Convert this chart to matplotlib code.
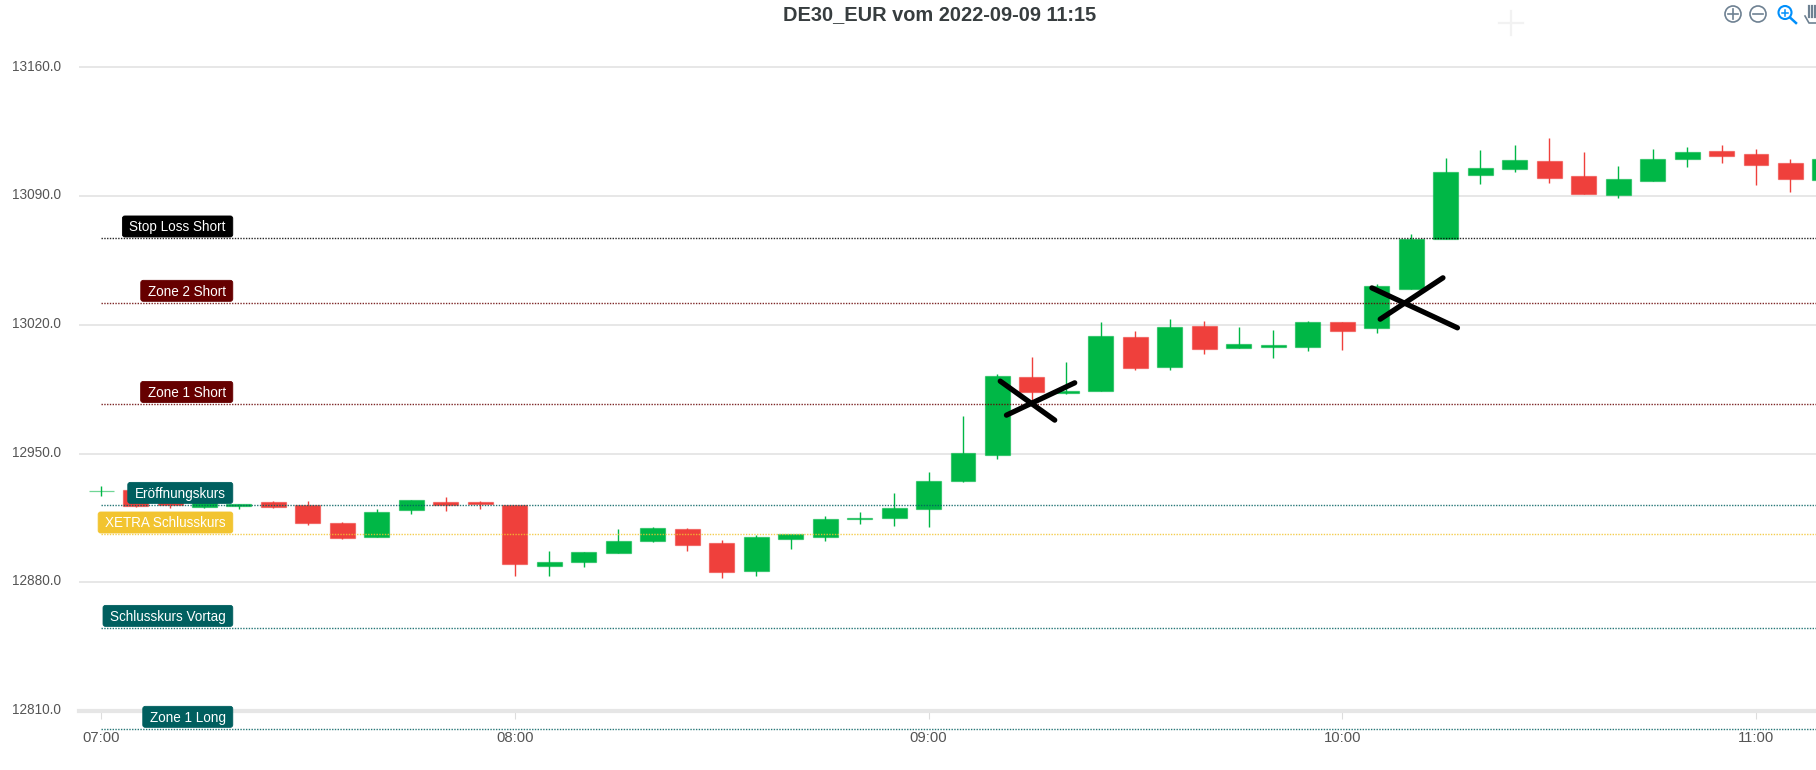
import matplotlib
matplotlib.use('Agg')
import matplotlib.pyplot as plt
from matplotlib.patches import Circle, FancyBboxPatch
from matplotlib.transforms import IdentityTransform, ScaledTranslation

plt.rcParams['font.family'] = ['Liberation Sans', 'DejaVu Sans']

TITLE = 'DE30_EUR vom 2022-09-09 11:15'
GREEN = '#00b746'
RED = '#ef403c'

# one candle every 5 minutes from 07:00
opens = [12929.5, 12930.4, 12923.5, 12921.0, 12921.7, 12923.4, 12922.3, 12912.3, 12904.7, 12919.2,
         12923.9, 12923.6, 12922.3, 12889.0, 12890.8, 12896.2, 12902.3, 12908.9, 12901.4, 12886.2,
         12903.8, 12904.7, 12914.3, 12914.7, 12920.1, 12935.1, 12949.1, 12991.4, 12983.2, 12984.1,
         13013.3, 12997.2, 13019.3, 13007.5, 13008.0, 13008.2, 13021.8, 13018.2, 13039.6, 13066.8,
         13101.6, 13105.0, 13109.2, 13101.2, 13090.5, 13098.1, 13110.1, 13114.8, 13112.8, 13108.3,
         13098.7]
closes = [12929.7, 12921.4, 12921.8, 12923.5, 12922.8, 12921.0, 12912.3, 12904.2, 12918.5, 12924.5,
          12922.3, 12922.5, 12889.9, 12891.3, 12896.6, 12902.4, 12909.4, 12900.2, 12885.8, 12904.7,
          12906.0, 12914.5, 12914.7, 12920.3, 12935.3, 12950.4, 12992.3, 12983.7, 12984.3, 13013.8,
          12996.8, 13019.0, 13006.8, 13009.8, 13009.3, 13021.5, 13016.7, 13040.9, 13066.8, 13102.9,
          13105.2, 13109.7, 13100.1, 13091.1, 13099.2, 13110.3, 13114.3, 13111.6, 13107.0, 13099.2,
          13110.3]
highs = [12932.3, 12931.0, 12924.0, 12924.0, 12922.8, 12924.1, 12924.1, 12912.6, 12919.6, 12924.5,
         12926.6, 12924.1, 12922.3, 12897.1, 12896.6, 12909.0, 12910.1, 12909.6, 12903.2, 12905.6,
         12906.0, 12916.1, 12918.1, 12928.4, 12939.9, 12970.5, 12993.2, 13002.4, 13000.0, 13021.5,
         13016.6, 13023.4, 13022.0, 13018.9, 13017.1, 13022.0, 13021.8, 13042.5, 13069.7, 13111.0,
         13115.0, 13117.9, 13121.5, 13113.9, 13106.5, 13115.9, 13117.0, 13117.9, 13115.5, 13110.3,
         13110.3]
lows = [12927.2, 12921.0, 12920.3, 12920.3, 12919.6, 12920.5, 12911.4, 12903.5, 12904.7, 12917.0,
        12918.7, 12920.1, 12883.5, 12883.4, 12888.2, 12896.0, 12902.0, 12897.1, 12882.4, 12883.3,
        12898.2, 12902.2, 12911.6, 12910.5, 12910.0, 12934.6, 12946.9, 12978.1, 12982.5, 12984.0,
        12995.5, 12995.5, 13004.4, 13007.5, 13002.0, 13006.0, 13006.6, 13015.6, 13039.6, 13066.8,
        13096.5, 13103.0, 13097.0, 13091.1, 13088.9, 13098.1, 13105.9, 13108.1, 13096.0, 13092.5,
        13098.7]
minutes = [5 * i for i in range(len(opens))]

y_ticks = [12810, 12880, 12950, 13020, 13090, 13160]
x_ticks = [0, 60, 120, 180, 240]
x_labels = ['07:00', '08:00', '09:00', '10:00', '11:00']

level_names = ['Stop Loss Short', 'Zone 2 Short', 'Zone 1 Short', 'Eröffnungskurs',
               'XETRA Schlusskurs', 'Schlusskurs Vortag', 'Zone 1 Long']
level_values = [13067.0, 13032.0, 12977.0, 12922.1, 12906.0, 12855.2, 12800.3]
level_colors = ['#000000', '#660000', '#660000', '#005f5f', '#f2c430', '#005f5f', '#005f5f']

# hand drawn crosses (minutes, price)
stroke_x = [[130.4, 138.3], [131.3, 141.2], [184.3, 196.7], [185.5, 194.6]]
stroke_y = [[12989.4, 12968.2], [12970.9, 12988.5], [13040.1, 13018.4], [13023.1, 13045.6]]

fig = plt.figure(figsize=(18.16, 7.70), dpi=100)
ax = fig.add_axes([79 / 1816, 59 / 770, 1737 / 1816, 711 / 770])
ax.set_xlim(-3.2, 248.7)
ax.set_ylim(12810, 13196.7)

for side in ['top', 'left', 'right']:
    ax.spines[side].set_visible(False)
ax.spines['bottom'].set_color('#e6e6e6')
ax.spines['bottom'].set_linewidth(3.0)

ax.set_yticks(y_ticks)
ax.set_yticklabels(['%.1f' % v for v in y_ticks])
ax.set_xticks(x_ticks)
ax.set_xticklabels(x_labels)
ax.tick_params(axis='y', length=0, pad=13, labelsize=9.8, labelcolor='#555555')
ax.tick_params(axis='x', length=5.5, width=0.8, color='#dddddd', pad=9, labelsize=10.7, labelcolor='#555555')
ax.grid(axis='y', color='#e0e0e0', linewidth=1.1)
ax.set_axisbelow(True)
up_shift = ScaledTranslation(0, 2.3 / 100, fig.dpi_scale_trans)
for lab in ax.get_yticklabels():
    lab.set_transform(lab.get_transform() + up_shift)

for m, o, c, h, l in zip(minutes, opens, closes, highs, lows):
    col = GREEN if c >= o else RED
    ax.vlines(m, l, h, color=col, linewidth=1.0, zorder=2)
    ax.bar(m, abs(c - o), width=3.62, bottom=min(o, c), color=col, zorder=3,
           edgecolor=col + '90', linewidth=0.9)

for val, col in zip(level_values, level_colors):
    ax.hlines(val, 0, 248.7, color=col, linewidth=1.0, linestyles=[(0, (1, 1))],
              zorder=4, clip_on=False, alpha=0.85)

for sx, sy in zip(stroke_x, stroke_y):
    ax.plot(sx, sy, color='black', linewidth=3.8, solid_capstyle='round', zorder=7)

# labels sit right aligned above their line, measured in pixels
renderer = fig.canvas.get_renderer()
for name, val, col in zip(level_names, level_values, level_colors):
    px, py = ax.transData.transform((19.1, val))
    t = ax.text(px - 7, py + 7, name, transform=IdentityTransform(), color='white', fontsize=9.75,
                ha='right', va='baseline', zorder=6, clip_on=False)
    w = t.get_window_extent(renderer).width
    ax.add_patch(FancyBboxPatch((px - w - 14, py + 1.5), w + 14, 21, boxstyle='round,pad=0,rounding_size=2.5',
                                transform=IdentityTransform(), facecolor=col, edgecolor=col, linewidth=0.6,
                                zorder=5, clip_on=False))

fig.text(940 / 1816, 1 - 15 / 770, TITLE, ha='center', va='center', fontsize=14.4,
         fontweight='bold', color='#373d3f')

# toolbar in the top right corner, in pixel coordinates
bar = fig.add_axes([0, 0, 1, 1])
bar.set_xlim(0, 1816)
bar.set_ylim(770, 0)
bar.axis('off')
bar.plot([1499, 1523], [23, 23], color='#f2f2f2', linewidth=1.6)
bar.plot([1511, 1511], [11, 35], color='#f2f2f2', linewidth=1.6)
grey = '#6e8192'
blue = '#008ffb'
bar.add_patch(Circle((1733, 14), 8, fill=False, edgecolor=grey, linewidth=1.2))
bar.plot([1728, 1738], [14, 14], color=grey, linewidth=1.2)
bar.plot([1733, 1733], [9, 19], color=grey, linewidth=1.2)
bar.add_patch(Circle((1758, 14), 8, fill=False, edgecolor=grey, linewidth=1.2))
bar.plot([1753, 1763], [14, 14], color=grey, linewidth=1.2)
bar.add_patch(Circle((1785, 12.5), 6.5, fill=False, edgecolor=blue, linewidth=1.5))
bar.plot([1790, 1796], [17.5, 23], color=blue, linewidth=1.8)
bar.plot([1782, 1788], [12.5, 12.5], color=blue, linewidth=1.1)
bar.plot([1785, 1785], [9.5, 15.5], color=blue, linewidth=1.1)
for hx in [1809, 1812, 1815]:
    bar.plot([hx, hx], [6, 17], color=grey, linewidth=1.6)
bar.plot([1805, 1809, 1816], [16, 23, 23], color=grey, linewidth=1.2)

fig.savefig('out.png', dpi=100)
